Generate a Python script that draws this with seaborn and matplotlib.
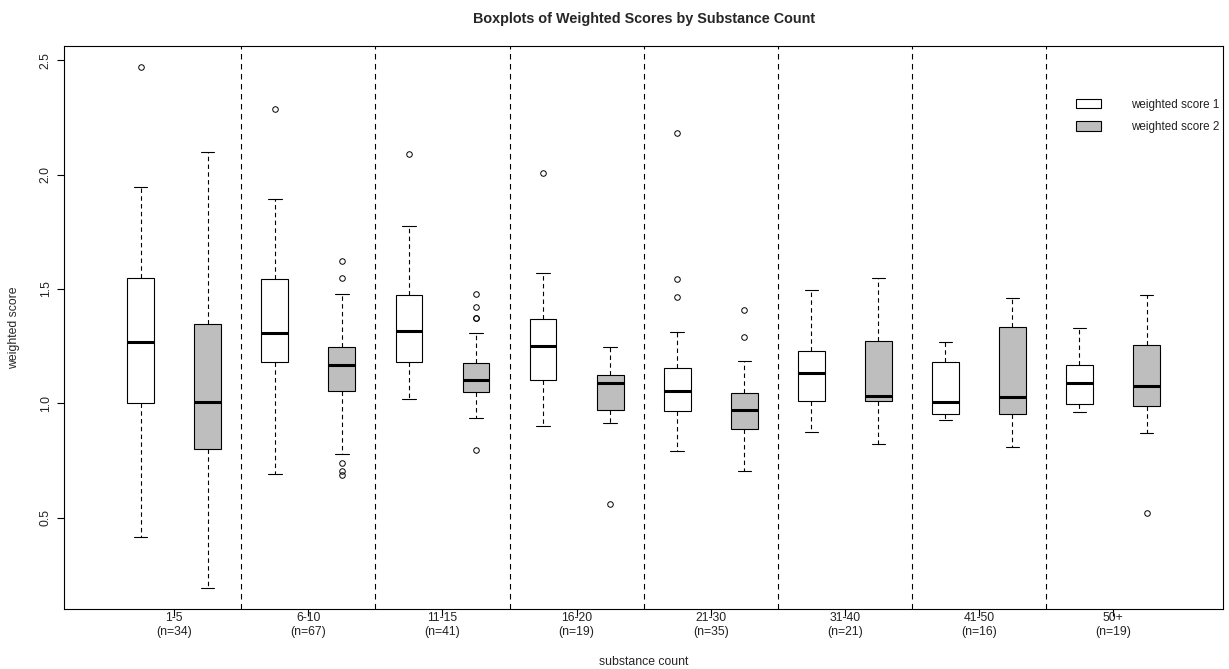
import numpy as np
import seaborn as sns
import matplotlib
matplotlib.use("Agg")
import matplotlib.pyplot as plt
from matplotlib.patches import Patch

# substance count groups and sample sizes
groups = ["1-5", "6-10", "11-15", "16-20", "21-30", "31-40", "41-50", "50+"]
counts = [34, 67, 41, 19, 35, 21, 16, 19]

# weighted score 1: five-number summaries
s1_low = [0.417, 0.691, 1.019, 0.902, 0.791, 0.876, 0.926, 0.961]
s1_q1 = [1.000, 1.179, 1.182, 1.102, 0.968, 1.009, 0.955, 0.996]
s1_med = [1.267, 1.306, 1.316, 1.251, 1.055, 1.132, 1.006, 1.087]
s1_q3 = [1.547, 1.543, 1.472, 1.370, 1.156, 1.227, 1.182, 1.169]
s1_high = [1.947, 1.895, 1.774, 1.568, 1.312, 1.494, 1.267, 1.331]
s1_out = [[2.472], [2.286], [2.090], [2.006], [1.465, 1.543, 2.181], [], [], []]

# weighted score 2
s2_low = [0.191, 0.778, 0.934, 0.912, 0.704, 0.821, 0.810, 0.870]
s2_q1 = [0.800, 1.052, 1.048, 0.971, 0.886, 1.009, 0.955, 0.987]
s2_med = [1.004, 1.167, 1.100, 1.090, 0.971, 1.032, 1.029, 1.076]
s2_q3 = [1.345, 1.248, 1.175, 1.122, 1.044, 1.274, 1.335, 1.254]
s2_high = [2.099, 1.479, 1.306, 1.246, 1.185, 1.549, 1.462, 1.472]
s2_out = [[], [0.685, 0.705, 0.739, 1.547, 1.622], [0.796, 1.373, 1.373, 1.422, 1.478],
          [0.558], [1.289, 1.407], [], [], [0.519]]

series = ["weighted score 1", "weighted score 2"]
fills = ["white", "#BEBEBE"]


def box_stats(low, q1, med, q3, high, out):
    return [dict(whislo=a, q1=b, med=c, q3=d, whishi=e, fliers=f)
            for a, b, c, d, e, f in zip(low, q1, med, q3, high, out)]


sns.set_style("white")
plt.rcParams['font.family'] = ['Liberation Sans', 'DejaVu Sans']
plt.rcParams['font.size'] = 8.5

fig = plt.figure(figsize=(12.29, 6.69), dpi=100)
ax = fig.add_axes([0.0523, 0.0897, 0.9428, 0.842])

pos1 = np.arange(len(groups)) * 2 + 1
pos2 = pos1 + 1

for stats, pos, fill in [(box_stats(s1_low, s1_q1, s1_med, s1_q3, s1_high, s1_out), pos1, fills[0]),
                         (box_stats(s2_low, s2_q1, s2_med, s2_q3, s2_high, s2_out), pos2, fills[1])]:
    ax.bxp(stats, positions=pos, widths=0.4, capwidths=0.2, patch_artist=True,
           manage_ticks=False,
           boxprops=dict(facecolor=fill, edgecolor="black", linewidth=0.8),
           medianprops=dict(color="black", linewidth=2.2, solid_capstyle="butt"),
           whiskerprops=dict(color="black", linewidth=0.8, linestyle=(0, (4, 3))),
           capprops=dict(color="black", linewidth=0.8),
           flierprops=dict(marker="o", markerfacecolor="none", markeredgecolor="black",
                           markersize=4, markeredgewidth=0.7, linestyle="none"))

for x in pos2[:-1] + 0.5:
    ax.axvline(x, color="black", linestyle=(0, (5, 4)), linewidth=0.8, zorder=0)

ax.set_xlim(-0.14, 17.14)
ax.set_ylim(0.1006, 2.564)
ax.set_xticks(pos1 + 0.5)
ax.set_xticklabels([f"{g}\n(n={n})" for g, n in zip(groups, counts)])
ax.set_yticks([0.5, 1.0, 1.5, 2.0, 2.5])
ax.set_yticklabels(["0.5", "1.0", "1.5", "2.0", "2.5"], rotation=90, va="center")
ax.tick_params(axis="both", direction="out", length=5, width=0.8, color="black",
               labelcolor="#222222", labelsize=8.8, bottom=True, left=True)
ax.tick_params(axis="x", pad=-2.5)
ax.tick_params(axis="y", pad=4)
for s in ax.spines.values():
    s.set_color("black")
    s.set_linewidth(0.8)

ax.set_title("Boxplots of Weighted Scores by Substance Count", fontsize=10.4,
             fontweight="bold", pad=16)
ax.set_xlabel("substance count", fontsize=8.8, labelpad=13)
ax.set_ylabel("weighted score", fontsize=8.8, labelpad=14)

handles = [Patch(facecolor=f, edgecolor="black", linewidth=0.8) for f in fills]
ax.legend(handles, series, loc="upper left", bbox_to_anchor=(0.873, 0.906),
          frameon=False, borderpad=0, borderaxespad=0, handlelength=2.15,
          handleheight=0.85, handletextpad=2.6, labelspacing=0.88, fontsize=8.4,
          labelcolor="#222222")

fig.savefig("out.png", dpi=100)
